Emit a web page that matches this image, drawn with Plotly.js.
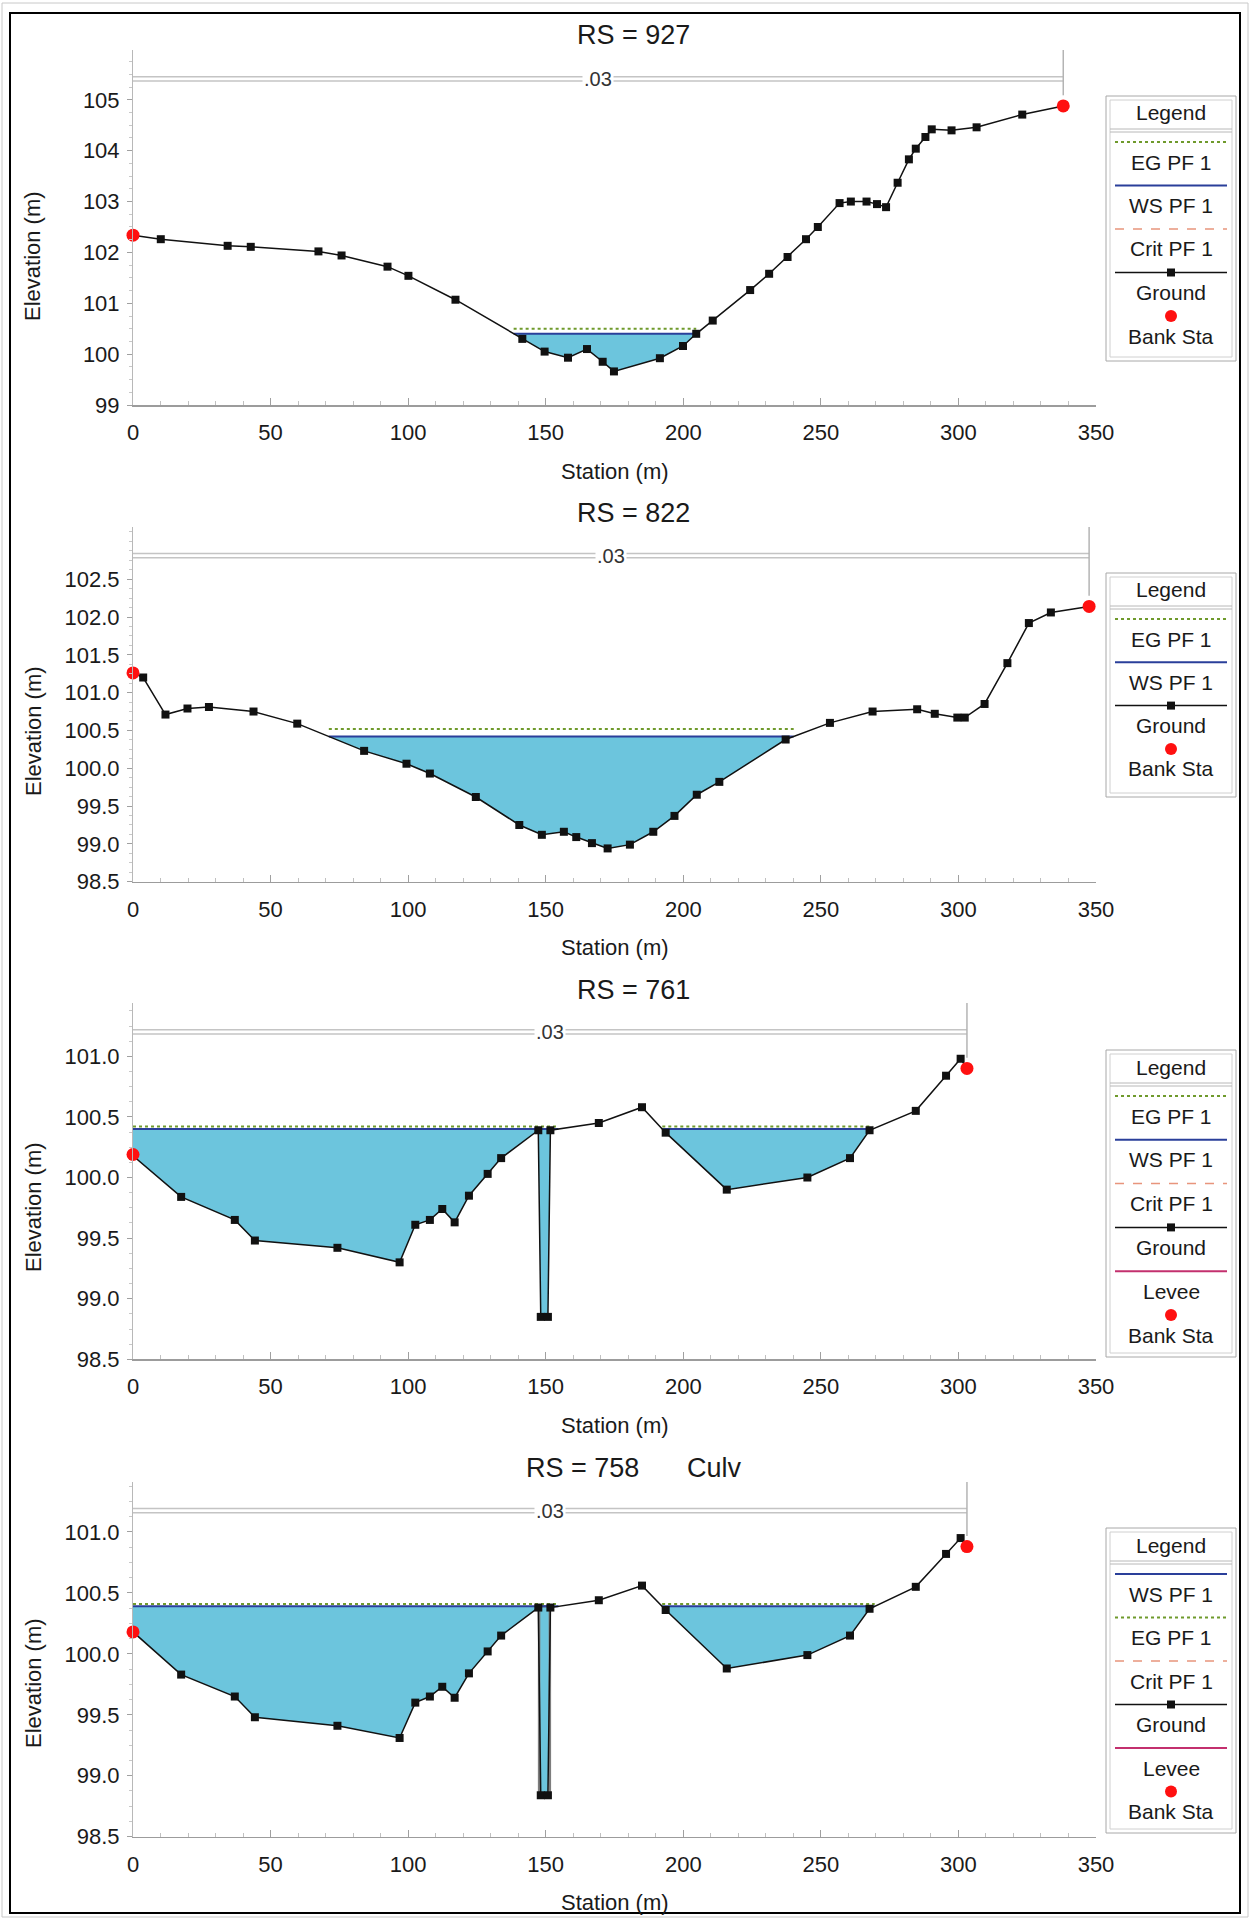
<!DOCTYPE html>
<html><head><meta charset="utf-8">
<script src="https://cdn.plot.ly/plotly-3.0.1.min.js"></script>
<style>html,body{margin:0;padding:0;background:#fff}#chart{width:1250px;height:1919px}</style>
</head><body><div id="chart"></div>
<script>
// ---------------- DATA ----------------
const titles = ["RS = 927", "RS = 822", "RS = 761", "RS = 758"];
const titleExtra = ["", "", "", "Culv"];
const nValueLabel = ".03";

const p1Station = [0,10.1,34.4,42.8,67.4,75.8,92.5,100.1,117.2,141.5,149.6,158.1,165.0,170.7,174.8,191.5,199.9,204.7,210.7,224.3,231.2,237.9,244.6,248.9,256.8,260.9,266.6,270.4,273.7,277.9,282.0,284.5,288.0,290.3,297.5,306.6,323.2,338.1];
const p1Elev    = [102.34,102.26,102.13,102.11,102.02,101.94,101.72,101.54,101.07,100.30,100.05,99.93,100.10,99.85,99.66,99.92,100.16,100.40,100.66,101.26,101.58,101.91,102.26,102.50,102.97,103.00,103.00,102.95,102.89,103.37,103.83,104.04,104.27,104.42,104.40,104.46,104.71,104.88];
const p1BankSta = [0, 338.1];
const p1BankElev = [102.34, 104.88];
const p1WS = 100.40, p1EG = 100.50;

const p2Station = [0,3.7,11.8,19.8,27.6,43.8,59.7,84.0,99.4,107.9,124.6,140.4,148.6,156.6,161.1,166.8,172.5,180.6,189.1,196.8,204.9,213.1,237.2,253.3,268.8,285.0,291.4,299.6,302.3,309.5,317.8,325.6,333.6,347.5];
const p2Elev    = [101.26,101.20,100.71,100.79,100.81,100.75,100.59,100.23,100.06,99.93,99.62,99.25,99.12,99.16,99.09,99.01,98.94,98.99,99.16,99.37,99.65,99.82,100.38,100.60,100.75,100.78,100.72,100.67,100.67,100.85,101.39,101.92,102.06,102.14];
const p2BankSta = [0, 347.5];
const p2BankElev = [101.26, 102.14];
const p2WS = 100.42, p2EG = 100.52;

const p3Station = [0,17.5,37.0,44.3,74.3,96.9,102.6,107.9,112.4,116.9,122.1,128.9,133.8,147.3,148.2,150.8,151.7,169.3,185.0,193.6,215.8,245.1,260.6,267.7,284.5,295.5,300.8,303.1];
const p3Elev    = [100.18,99.84,99.65,99.48,99.42,99.30,99.61,99.65,99.74,99.63,99.85,100.03,100.16,100.39,98.85,98.85,100.39,100.45,100.58,100.37,99.90,100.00,100.16,100.39,100.55,100.84,100.98,100.90];
const p3BankSta = [0, 303.1];
const p3BankElev = [100.19, 100.90];
const p3WS = 100.40, p3EG = 100.42;

const p4Station = [0,17.5,37.0,44.3,74.3,96.9,102.6,107.9,112.4,116.9,122.1,128.9,133.8,147.3,148.2,150.8,151.7,169.3,185.0,193.6,215.8,245.1,260.6,267.7,284.5,295.5,300.8,303.1];
const p4Elev    = [100.18,99.83,99.65,99.48,99.41,99.31,99.60,99.65,99.73,99.64,99.84,100.02,100.15,100.38,98.84,98.84,100.38,100.44,100.56,100.36,99.88,99.99,100.15,100.37,100.55,100.82,100.95,100.88];
const p4BankSta = [0, 303.1];
const p4BankElev = [100.18, 100.88];
const p4WS = 100.39, p4EG = 100.41;
const culvertSta = [147.6, 147.6, 151.5, 151.5, 147.6];
const culvertElev = [98.84, 100.39, 100.39, 98.84, 98.84];

const xTicks = [0,50,100,150,200,250,300,350];
const yTicks1 = [99,100,101,102,103,104,105];
const yTickText1 = ["99","100","101","102","103","104","105"];
const yTicks2 = [98.5,99.0,99.5,100.0,100.5,101.0,101.5,102.0,102.5];
const yTickText2 = ["98.5","99.0","99.5","100.0","100.5","101.0","101.5","102.0","102.5"];
const yTicks3 = [98.5,99.0,99.5,100.0,100.5,101.0];
const yTickText3 = ["98.5","99.0","99.5","100.0","100.5","101.0"];

const legend1 = ["EG PF 1","WS PF 1","Crit PF 1","Ground","Bank Sta"];
const legend2 = ["EG PF 1","WS PF 1","Ground","Bank Sta"];
const legend3 = ["EG PF 1","WS PF 1","Crit PF 1","Ground","Levee","Bank Sta"];
const legend4 = ["WS PF 1","EG PF 1","Crit PF 1","Ground","Levee","Bank Sta"];

// ---------------- LAYOUT GEOMETRY ----------------
const W = 1250, H = 1919;
const X = px => px / W;
const Y = py => 1 - py / H;
const FONT = "Arial, 'Liberation Sans', sans-serif";
const TXT = "#1a1a1a";
const WATER = "#6cc5dd";
const TICKSIZE = 22, LABSIZE = 22, TITLESIZE = 27, LEGSIZE = 21;

const panels = [
  {st:p1Station, el:p1Elev, bs:p1BankSta, be:p1BankElev, ws:p1WS, eg:p1EG, yt:yTicks1, ytt:yTickText1,
   top:50, bot:405, yr:[99,105.98], leg:legend1, lg:{top:96, first:142, pitch:43.5, bottom:361}, ytitle:256, ttl:35},
  {st:p2Station, el:p2Elev, bs:p2BankSta, be:p2BankElev, ws:p2WS, eg:p2EG, yt:yTicks2, ytt:yTickText2,
   top:527, bot:881.7, yr:[98.5,103.19], leg:legend2, lg:{top:573, first:619, pitch:43.3, bottom:797}, ytitle:731, ttl:513},
  {st:p3Station, el:p3Elev, bs:p3BankSta, be:p3BankElev, ws:p3WS, eg:p3EG, yt:yTicks3, ytt:yTickText3,
   top:1003, bot:1359.3, yr:[98.5,101.44], leg:legend3, lg:{top:1050, first:1096, pitch:43.8, bottom:1357}, ytitle:1207, ttl:990},
  {st:p4Station, el:p4Elev, bs:p4BankSta, be:p4BankElev, ws:p4WS, eg:p4EG, yt:yTicks3, ytt:yTickText3,
   top:1482, bot:1836.7, yr:[98.5,101.41], leg:legend4, lg:{top:1528, first:1574, pitch:43.5, bottom:1833}, ytitle:1683, ttl:1468, culv:true}
];

const styles = {
  "EG PF 1":  {color:"#6f9a2c", dash:"dot", width:2},
  "WS PF 1":  {color:"#2a3f9a", dash:"solid", width:2},
  "Crit PF 1":{color:"#e8957c", dash:"dash", width:1.5},
  "Ground":   {color:"#111111", dash:"solid", width:1.5},
  "Levee":    {color:"#c3306e", dash:"solid", width:2},
  "Bank Sta": null
};

function wetPolys(xs, ys, ws){
  const segs = []; let cur = null;
  for (let i = 0; i < xs.length; i++){
    const wet = ys[i] < ws;
    if (i > 0){
      const prevWet = ys[i-1] < ws;
      if (wet !== prevWet){
        const t = (ws - ys[i-1]) / (ys[i] - ys[i-1]);
        const xi = xs[i-1] + t * (xs[i] - xs[i-1]);
        if (wet){ cur = {x:[xi], y:[ws]}; }
        else { cur.x.push(xi); cur.y.push(ws); segs.push(cur); cur = null; }
      }
    }
    if (wet){
      if (!cur) cur = {x:[xs[i]], y:[ws]};
      cur.x.push(xs[i]); cur.y.push(ys[i]);
    }
  }
  if (cur){ cur.x.push(xs[xs.length-1]); cur.y.push(ws); segs.push(cur); }
  return segs;
}

const data = [];
const layout = {
  width: W, height: H, margin:{l:0,r:0,t:0,b:0,pad:0},
  paper_bgcolor:"#ffffff", plot_bgcolor:"#ffffff", showlegend:false,
  font:{family:FONT, color:TXT, size:20},
  shapes:[], annotations:[]
};

panels.forEach((p, k) => {
  const n = k === 0 ? "" : String(k+1);
  const xa = "x" + n, ya = "y" + n;
  layout["xaxis" + n] = {
    domain:[X(133), X(1096)], anchor: ya, range:[0,350],
    tickmode:"array", tickvals:xTicks, ticktext:xTicks.map(String),
    showline:true, linecolor:"#9c9c9c", linewidth:1.5, mirror:false,
    ticks:"inside", ticklen:7, tickcolor:"#a0a0a0", tickwidth:1,
    minor:{ticks:"inside", ticklen:4, dtick:10, tick0:0, tickcolor:"#c0c0c0", showgrid:false},
    showgrid:false, zeroline:false, ticklabelstandoff:7,
    tickfont:{size:TICKSIZE, family:FONT, color:TXT}, fixedrange:true
  };
  layout["yaxis" + n] = {
    domain:[Y(p.bot), Y(p.top)], anchor: xa, range:p.yr,
    tickmode:"array", tickvals:p.yt, ticktext:p.ytt,
    showline:true, linecolor:"#b8b8b8", linewidth:1,
    ticks:"outside", ticklen:5, tickcolor:"#a0a0a0",
    minor:{ticks:"outside", ticklen:3, dtick:(p.yt[1]-p.yt[0])/4, tick0:p.yt[0], tickcolor:"#c8c8c8", showgrid:false},
    showgrid:false, zeroline:false, ticklabelstandoff:3,
    tickfont:{size:TICKSIZE, family:FONT, color:TXT}, fixedrange:true
  };

  // water fill
  const segs = wetPolys(p.st, p.el, p.ws);
  const wx = [], wy = [], sx = [], sy = [], ex = [], ey = [];
  segs.forEach(s => {
    wx.push(...s.x, null); wy.push(...s.y, null);
    sx.push(s.x[0], s.x[s.x.length-1], null); sy.push(p.ws, p.ws, null);
    ex.push(s.x[0], s.x[s.x.length-1], null); ey.push(p.eg, p.eg, null);
  });
  data.push({type:"scatter", mode:"lines", x:wx, y:wy, xaxis:xa, yaxis:ya, fill:"toself",
             fillcolor:WATER, line:{width:0, color:WATER}, hoverinfo:"skip", connectgaps:false});
  if (p.culv){
    data.push({type:"scatter", mode:"lines", x:culvertSta, y:culvertElev, xaxis:xa, yaxis:ya,
               line:{color:"#7d7d7d", width:2.5}, hoverinfo:"skip"});
  }
  data.push({type:"scatter", mode:"lines", x:ex, y:ey, xaxis:xa, yaxis:ya,
             line:{color:styles["EG PF 1"].color, width:2, dash:"dot"}, hoverinfo:"skip", connectgaps:false});
  data.push({type:"scatter", mode:"lines", x:sx, y:sy, xaxis:xa, yaxis:ya,
             line:{color:styles["WS PF 1"].color, width:2}, hoverinfo:"skip", connectgaps:false});
  // ground
  data.push({type:"scatter", mode:"lines+markers", x:p.st, y:p.el, xaxis:xa, yaxis:ya, cliponaxis:false,
             line:{color:"#111", width:1.5}, marker:{symbol:"square", size:8, color:"#111"}, hoverinfo:"skip"});
  // bank stations
  data.push({type:"scatter", mode:"markers", x:p.bs, y:p.be, xaxis:xa, yaxis:ya, cliponaxis:false,
             marker:{symbol:"circle", size:13, color:"#ff1010", line:{width:0}}, hoverinfo:"skip"});

  // n-value line
  const nEnd = p.bs[1];
  [0.925, 0.913].forEach(yy => layout.shapes.push({type:"line", xref:xa, yref:ya + " domain",
    x0:0, x1:nEnd, y0:yy, y1:yy, line:{color:"#c4c4c4", width:1.5}}));
  layout.shapes.push({type:"line", xref:xa, yref:ya, x0:nEnd, x1:nEnd, y0:p.be[1] + (p.yr[1]-p.yr[0])*0.03, y1:p.yr[1],
    line:{color:"#b4b4b4", width:1.5}});
  layout.annotations.push({xref:xa, yref:ya + " domain", x:nEnd/2, y:0.919, text:nValueLabel, showarrow:false,
    bgcolor:"#ffffff", font:{size:20, color:"#333"}, xanchor:"center", yanchor:"middle"});

  // titles
  if (titleExtra[k]){
    layout.annotations.push({xref:"paper", yref:"paper", x:X(582), y:Y(p.ttl), text:titles[k], showarrow:false,
      font:{size:TITLESIZE, color:TXT}, xanchor:"center", yanchor:"middle"});
    layout.annotations.push({xref:"paper", yref:"paper", x:X(714), y:Y(p.ttl), text:titleExtra[k], showarrow:false,
      font:{size:TITLESIZE, color:TXT}, xanchor:"center", yanchor:"middle"});
  } else {
    layout.annotations.push({xref:"paper", yref:"paper", x:X(633), y:Y(p.ttl), text:titles[k], showarrow:false,
      font:{size:TITLESIZE, color:TXT}, xanchor:"center", yanchor:"middle"});
  }
  layout.annotations.push({xref:"paper", yref:"paper", x:X(614.5), y:Y(p.bot + 66), text:"Station (m)", showarrow:false,
    font:{size:LABSIZE, color:TXT}, xanchor:"center", yanchor:"middle"});
  layout.annotations.push({xref:"paper", yref:"paper", x:X(33), y:Y(p.ytitle), text:"Elevation (m)", showarrow:false,
    textangle:-90, font:{size:LABSIZE, color:TXT}, xanchor:"center", yanchor:"middle"});

  // custom legend box
  const L = 1106, R = 1236, C = (L+R)/2, g = p.lg;
  layout.shapes.push({type:"rect", xref:"paper", yref:"paper", x0:X(L), x1:X(R), y0:Y(g.bottom), y1:Y(g.top),
    line:{color:"#a8a8a8", width:1}, fillcolor:"#ffffff", layer:"above"});
  layout.shapes.push({type:"rect", xref:"paper", yref:"paper", x0:X(L+4), x1:X(R-4), y0:Y(g.bottom-4), y1:Y(g.top+4),
    line:{color:"#d0d0d0", width:1}, layer:"above"});
  [g.top+33, g.top+36].forEach(yy => layout.shapes.push({type:"line", xref:"paper", yref:"paper",
    x0:X(L+4), x1:X(R-4), y0:Y(yy), y1:Y(yy), line:{color:"#b8b8b8", width:1}, layer:"above"}));
  layout.annotations.push({xref:"paper", yref:"paper", x:X(C), y:Y(g.top+17), text:"Legend", showarrow:false,
    font:{size:LEGSIZE, color:TXT}, xanchor:"center", yanchor:"middle"});
  p.leg.forEach((name, i) => {
    const ly = g.first + i*g.pitch;
    const s = styles[name];
    if (s){
      layout.shapes.push({type:"line", xref:"paper", yref:"paper", x0:X(1115), x1:X(1227), y0:Y(ly), y1:Y(ly),
        line:{color:s.color, width:s.width, dash:s.dash}, layer:"above"});
      if (name === "Ground"){
        layout.shapes.push({type:"rect", xref:"paper", yref:"paper", x0:X(C-4), x1:X(C+4), y0:Y(ly+4), y1:Y(ly-4),
          line:{width:0}, fillcolor:"#111", layer:"above"});
      }
    } else {
      layout.shapes.push({type:"circle", xref:"paper", yref:"paper", x0:X(C-6), x1:X(C+6), y0:Y(ly+6), y1:Y(ly-6),
        line:{width:0}, fillcolor:"#ff1010", layer:"above"});
    }
    layout.annotations.push({xref:"paper", yref:"paper", x:X(C), y:Y(ly+20), text:name, showarrow:false,
      font:{size:LEGSIZE, color:TXT}, xanchor:"center", yanchor:"middle"});
  });
});

// outer frame
layout.shapes.push({type:"rect", xref:"paper", yref:"paper", x0:X(2), x1:X(1248), y0:Y(1917), y1:Y(3),
  line:{color:"#c8c8c8", width:1}});
layout.shapes.push({type:"rect", xref:"paper", yref:"paper", x0:X(10), x1:X(1240), y0:Y(1913), y1:Y(13),
  line:{color:"#000000", width:2}});

Plotly.newPlot("chart", data, layout, {staticPlot:true, displayModeBar:false});
</script>
</body></html>
